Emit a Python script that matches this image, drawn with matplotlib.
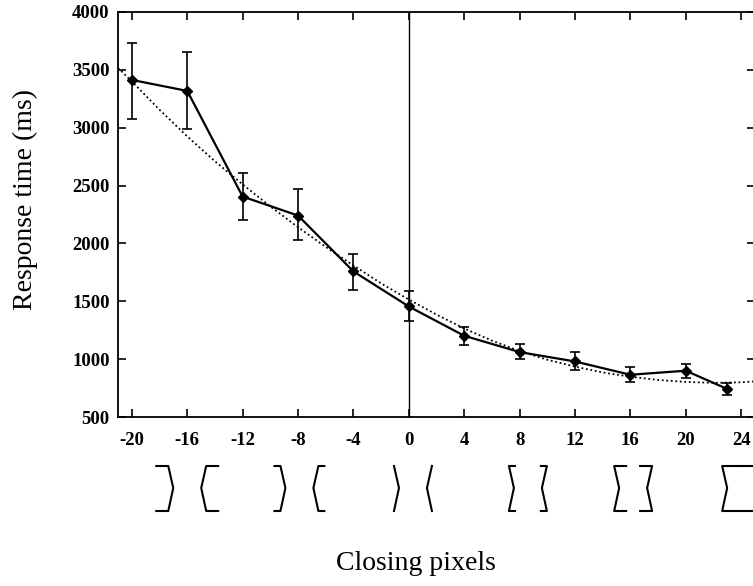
import matplotlib
matplotlib.use("Agg")
import matplotlib.pyplot as plt
import matplotlib.transforms as mtransforms

plt.rcParams["font.family"] = ["Liberation Serif", "DejaVu Serif"]

# measured response times with error bars
closing = [-20, -16, -12, -8, -4, 0, 4, 8, 12, 16, 20, 23]
rt_mean = [3413, 3318, 2405, 2241, 1758, 1455, 1202, 1061, 980, 865, 900, 742]
rt_upper = [3730, 3657, 2607, 2472, 1910, 1590, 1282, 1130, 1061, 928, 957, 796]
rt_lower = [3076, 2987, 2204, 2026, 1599, 1326, 1120, 1001, 908, 801, 838, 694]

# dotted fitted curve
fit_x = [-21, -20, -18, -16, -14, -12, -10, -8, -6, -4, -2, 0, 2, 4, 6, 8,
         10, 12, 14, 16, 18, 20, 22, 24, 25]
fit_y = [3517, 3400, 3155, 2925, 2710, 2510, 2320, 2140, 1970, 1810, 1655, 1515,
         1385, 1265, 1160, 1070, 995, 935, 885, 848, 820, 803, 795, 800, 808]

x_ticks = [-20, -16, -12, -8, -4, 0, 4, 8, 12, 16, 20, 24]
y_ticks = [500, 1000, 1500, 2000, 2500, 3000, 3500, 4000]

# stimulus pictograms under the axis (centre in closing pixels)
stim_centres = [-16.0, -7.9, 0.3, 8.6, 16.2, 24.0]
stim_values = [-16, -8, 0, 8, 16, 24]

W, H = 753, 586
fig = plt.figure(figsize=(W / 100, H / 100), dpi=100)
ax = fig.add_axes([118 / W, 1 - 417 / H, 637 / W, 405 / H])

err = [[m - lo for m, lo in zip(rt_mean, rt_lower)],
       [hi - m for m, hi in zip(rt_mean, rt_upper)]]
ax.plot(fit_x, fit_y, color="black", linestyle=(0, (1, 1.5)), linewidth=1.3)
ax.errorbar(closing, rt_mean, yerr=err, color="black", linewidth=1.6,
            elinewidth=1.2, capsize=3.5, capthick=1.2, marker="D", markersize=5)
ax.axvline(0, color="black", linewidth=1.0)

ax.set_xlim(-21, 25)
ax.set_ylim(500, 4000)
ax.set_xticks(x_ticks)
ax.set_yticks(y_ticks)
ax.set_xticklabels([str(v) for v in x_ticks], fontweight="bold", fontsize=13.5)
ax.set_yticklabels([str(v) for v in y_ticks], fontweight="bold", fontsize=13.5)
ax.tick_params(direction="in", length=6, width=1.2, top=True, right=True)
ax.tick_params(axis="x", pad=11)
ax.tick_params(axis="y", pad=6)
for s in ax.spines.values():
    s.set_linewidth(1.3)

# bracket pictograms
trans = mtransforms.blended_transform_factory(ax.transData, fig.transFigure)
top, mid, bot = 1 - 466 / H, 1 - 488 / H, 1 - 511 / H
half, bow = 1.37, 0.36
for c, v in zip(stim_centres, stim_values):
    arm = 0.054 * v
    xl = c - half
    xr = c + half
    ax.plot([xl + arm, xl, xl + bow, xl, xl + arm], [top, top, mid, bot, bot],
            color="black", linewidth=1.5, transform=trans, clip_on=False)
    ax.plot([xr - arm, xr, xr - bow, xr, xr - arm], [top, top, mid, bot, bot],
            color="black", linewidth=1.5, transform=trans, clip_on=False)

fig.text(25 / W, 1 - 200 / H, "Response time (ms)", rotation=90,
         ha="center", va="center", fontsize=20)
fig.text(416 / W, 1 - 563 / H, "Closing pixels", ha="center", va="center",
         fontsize=20)

fig.savefig("out.png", dpi=100)
